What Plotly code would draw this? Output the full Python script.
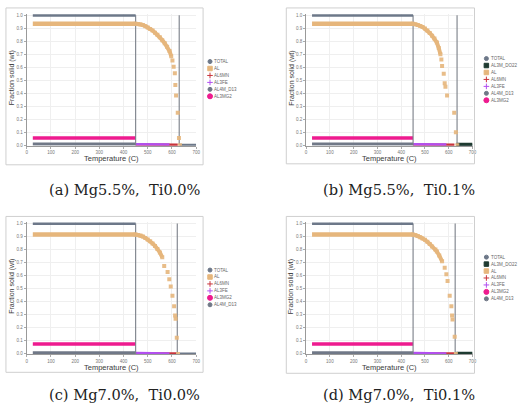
import plotly.graph_objects as go

W, H = 531, 416

# ---------------- data ----------------
PLATEAU_T = [25, 450]             # room-temperature plateau
LIQ_T = [632, 700]                # liquid region (no solid)
SOLIDUS_A, LIQUIDUS_A = 450, 630
SOLIDUS_B, LIQUIDUS_B = 450, 635
SOLIDUS_C, LIQUIDUS_C = 450, 622
SOLIDUS_D, LIQUIDUS_D = 450, 627

TOTAL_V = [1.0, 1.0]
AL_PLATEAU = {"a": 0.935, "b": 0.935, "c": 0.915, "d": 0.915}
AL3MG2_PLATEAU = {"a": 0.055, "b": 0.055, "c": 0.076, "d": 0.076}
AL4M_D13_V = [0.008, 0.008]
AL3FE_T = [450, 590]
AL3FE_V = [0.007, 0.004]
AL6MN_T = [450, 624]
AL6MN_V = [0.004, 0.003]
AL3M_DO22_T = [632, 700]
AL3M_DO22_V = [0.004, 0.004]

AL_T_A = [450, 460, 470, 480, 490, 500, 510, 520, 530, 540, 550, 560, 570, 580, 590, 597, 602, 607, 612, 614, 617, 624, 629, 633]
AL_V_A = [0.935, 0.933, 0.930, 0.924, 0.916, 0.906, 0.895, 0.882, 0.866, 0.849, 0.830, 0.808, 0.785, 0.758, 0.724, 0.685, 0.652, 0.604, 0.553, 0.463, 0.383, 0.250, 0.055, 0.0]

AL_T_B = [450, 460, 470, 480, 490, 500, 510, 520, 530, 540, 550, 558, 565, 569, 572, 579, 583, 586, 593, 623, 630, 636]
AL_V_B = [0.935, 0.931, 0.925, 0.918, 0.910, 0.897, 0.882, 0.864, 0.843, 0.820, 0.790, 0.748, 0.700, 0.660, 0.610, 0.550, 0.476, 0.450, 0.383, 0.250, 0.100, 0.0]

AL_T_C = [450, 460, 470, 480, 490, 500, 510, 520, 530, 540, 550, 560, 568, 582, 589, 595, 602, 609, 613, 615, 620, 625]
AL_V_C = [0.915, 0.912, 0.907, 0.899, 0.889, 0.877, 0.863, 0.846, 0.828, 0.805, 0.778, 0.740, 0.673, 0.627, 0.572, 0.516, 0.446, 0.365, 0.295, 0.270, 0.123, 0.0]

AL_T_D = [450, 460, 470, 480, 490, 500, 510, 520, 530, 544, 550, 560, 572, 583, 590, 595, 604, 611, 614, 616, 625, 630]
AL_V_D = [0.915, 0.911, 0.904, 0.895, 0.885, 0.874, 0.860, 0.843, 0.824, 0.800, 0.785, 0.755, 0.710, 0.660, 0.610, 0.559, 0.446, 0.365, 0.295, 0.264, 0.131, 0.0]

CAPTIONS = {"a": "(a) Mg5.5%,  Ti0.0%", "b": "(b) Mg5.5%,  Ti0.1%",
            "c": "(c) Mg7.0%,  Ti0.0%", "d": "(d) Mg7.0%,  Ti0.1%"}

LEGEND_ORDER = {
    "a": ["TOTAL", "AL", "AL6MN", "AL3FE", "AL4M_D13", "AL3MG2"],
    "b": ["TOTAL", "AL3M_DO22", "AL", "AL6MN", "AL3FE", "AL4M_D13", "AL3MG2"],
    "c": ["TOTAL", "AL", "AL6MN", "AL3FE", "AL3MG2", "AL4M_D13"],
    "d": ["TOTAL", "AL3M_DO22", "AL", "AL6MN", "AL3FE", "AL3MG2", "AL4M_D13"],
}
X_TICKS = [0, 100, 200, 300, 400, 500, 600, 700]
Y_TICKS = [0.0, 0.1, 0.2, 0.3, 0.4, 0.5, 0.6, 0.7, 0.8, 0.9, 1.0]

# ---------------- styles ----------------
COL = {"TOTAL": "#6d7889", "AL": "#e6b67c", "AL6MN": "#c8343c", "AL3FE": "#b24ff0",
       "AL4M_D13": "#707887", "AL3MG2": "#ee1b8f", "AL3M_DO22": "#1e3a30"}
SYM = {"TOTAL": "circle", "AL": "square", "AL6MN": "cross-thin", "AL3FE": "cross-thin",
       "AL4M_D13": "circle", "AL3MG2": "circle", "AL3M_DO22": "square"}
LSIZE = {"TOTAL": 4, "AL": 4.5, "AL6MN": 4, "AL3FE": 4, "AL4M_D13": 4, "AL3MG2": 5, "AL3M_DO22": 4.5}
STEEP_FROM = 0.68   # below this fraction the curve is drawn as separate markers only

# panel pixel geometry: plot area (x0,x1,ytop,ybottom), frame box, legend origin, caption center
PANELS = {
    "a": dict(plot=(26, 197, 13.3, 145.7), box=(5, 204, 7, 165), leg=(211, 61), cap=(125, 190)),
    "b": dict(plot=(308, 476, 13.3, 145.7), box=(288, 478, 7, 164), leg=(490, 58), cap=(402, 190)),
    "c": dict(plot=(26, 197, 223, 356), box=(5, 204, 217, 374), leg=(211, 271), cap=(125, 396)),
    "d": dict(plot=(308, 476, 223, 356), box=(288, 478, 217, 375), leg=(490, 258), cap=(402, 396)),
}
SOL = {"a": SOLIDUS_A, "b": SOLIDUS_B, "c": SOLIDUS_C, "d": SOLIDUS_D}
LIQ = {"a": LIQUIDUS_A, "b": LIQUIDUS_B, "c": LIQUIDUS_C, "d": LIQUIDUS_D}
AL_T = {"a": AL_T_A, "b": AL_T_B, "c": AL_T_C, "d": AL_T_D}
AL_V = {"a": AL_V_A, "b": AL_V_B, "c": AL_V_C, "d": AL_V_D}


def px(x):
    return x / W


def py(y):
    return 1 - y / H


fig = go.Figure()
shapes, annotations = [], []
FONT = "Liberation Sans"


def note(x, y, text, size, color, family=FONT, xanchor="center", angle=0):
    annotations.append(dict(xref="paper", yref="paper", x=px(x), y=py(y), text=text,
                            xanchor=xanchor, yanchor="middle", showarrow=False,
                            textangle=angle, borderpad=0,
                            font=dict(size=size, color=color, family=family)))


for i, key in enumerate(["a", "b", "c", "d"]):
    n = i + 1
    xa, ya = f"x{n}" if n > 1 else "x", f"y{n}" if n > 1 else "y"
    xl, yl = f"xaxis{n}" if n > 1 else "xaxis", f"yaxis{n}" if n > 1 else "yaxis"
    p = PANELS[key]
    x0, x1, yt, yb = p["plot"]
    fig.layout[xl] = dict(domain=[px(x0), px(x1)], range=[0, 700], anchor=ya,
                          tickvals=X_TICKS, ticks="outside", ticklen=2, tickcolor="#aaa",
                          tickfont=dict(size=4.5, color="#777", family=FONT),
                          showgrid=True, gridcolor="#efefef", gridwidth=0.6,
                          showline=True, linecolor="#9a9a9a", linewidth=1,
                          zeroline=False, fixedrange=True)
    fig.layout[yl] = dict(domain=[py(yb), py(yt)], range=[-0.004, 1.008], anchor=xa,
                          tickvals=Y_TICKS, ticktext=[f"{v:.1f}" for v in Y_TICKS],
                          ticks="outside", ticklen=2, tickcolor="#aaa",
                          tickfont=dict(size=4.5, color="#777", family=FONT),
                          showgrid=True, gridcolor="#efefef", gridwidth=0.6,
                          showline=True, linecolor="#9a9a9a", linewidth=1,
                          zeroline=False, fixedrange=True)

    def add(**kw):
        fig.add_trace(go.Scatter(xaxis=xa, yaxis=ya, showlegend=False, hoverinfo="skip", **kw))

    # bottom phases
    add(x=PLATEAU_T, y=AL4M_D13_V, mode="lines", line=dict(color=COL["AL4M_D13"], width=3))
    add(x=AL6MN_T, y=AL6MN_V, mode="lines", line=dict(color=COL["AL6MN"], width=2.5))
    add(x=AL3FE_T, y=AL3FE_V, mode="lines", line=dict(color=COL["AL3FE"], width=2.5))
    add(x=LIQ_T, y=[0, 0], mode="lines", line=dict(color=COL["TOTAL"], width=3))
    if key in ("b", "d"):
        add(x=AL3M_DO22_T, y=AL3M_DO22_V, mode="lines", line=dict(color=COL["AL3M_DO22"], width=3.5))
    # pink AL3MG2 plateau
    add(x=PLATEAU_T, y=[AL3MG2_PLATEAU[key]] * 2, mode="lines", line=dict(color=COL["AL3MG2"], width=3.5))
    # vertical connectors
    add(x=[SOL[key], SOL[key], None, LIQ[key], LIQ[key]], y=[0, 1.0, None, 0, 1.0],
        mode="lines", line=dict(color="#7a7f88", width=1.1))
    # TOTAL plateau
    add(x=PLATEAU_T, y=TOTAL_V, mode="lines", line=dict(color=COL["TOTAL"], width=3))
    # AL
    add(x=PLATEAU_T, y=[AL_PLATEAU[key]] * 2, mode="lines", line=dict(color=COL["AL"], width=4.5))
    smooth_t = [t for t, v in zip(AL_T[key], AL_V[key]) if v >= STEEP_FROM]
    smooth_v = [v for v in AL_V[key] if v >= STEEP_FROM]
    add(x=smooth_t, y=smooth_v, mode="lines", line=dict(color=COL["AL"], width=4))
    add(x=AL_T[key], y=AL_V[key], mode="markers",
        marker=dict(symbol="square", size=4, color=COL["AL"], opacity=0.9))

    # frame box
    bx0, bx1, by0, by1 = p["box"]
    shapes.append(dict(type="rect", xref="paper", yref="paper", x0=px(bx0), x1=px(bx1),
                       y0=py(by1), y1=py(by0), line=dict(color="#cfcfcf", width=1)))
    # axis titles
    note((x0 + x1) / 2, yb + 13.3, "Temperature (C)", 7.5, "#3a3a3a")
    note(x0 - 14.5, (yt + yb) / 2 - 2, "Fraction solid (wt)", 7, "#3a3a3a", angle=-90)
    # caption
    cx, cy = p["cap"]
    note(cx, cy, CAPTIONS[key], 14.6, "#222", family="DejaVu Serif")
    # manual legend
    lx, ly = p["leg"]
    for j, name in enumerate(LEGEND_ORDER[key]):
        yy = ly + j * 7
        fig.add_trace(go.Scatter(xaxis="x5", yaxis="y5", x=[lx], y=[yy], mode="markers",
                                 showlegend=False, hoverinfo="skip",
                                 marker=dict(symbol=SYM[name], size=LSIZE[name], color=COL[name],
                                             line=dict(color=COL[name], width=1))))
        note(lx + 3.5, yy, name, 4.5, "#666", xanchor="left")

fig.layout["xaxis5"] = dict(domain=[0, 1], range=[0, W], anchor="y5", visible=False, fixedrange=True)
fig.layout["yaxis5"] = dict(domain=[0, 1], range=[H, 0], anchor="x5", visible=False, fixedrange=True)

fig.update_layout(width=W, height=H, margin=dict(l=0, r=0, t=0, b=0),
                  paper_bgcolor="white", plot_bgcolor="rgba(0,0,0,0)",
                  shapes=shapes, annotations=annotations, showlegend=False)
fig.write_html("out.html", config={"displayModeBar": False},
               post_script="document.body.style.margin='0';document.body.style.overflow='hidden';")
